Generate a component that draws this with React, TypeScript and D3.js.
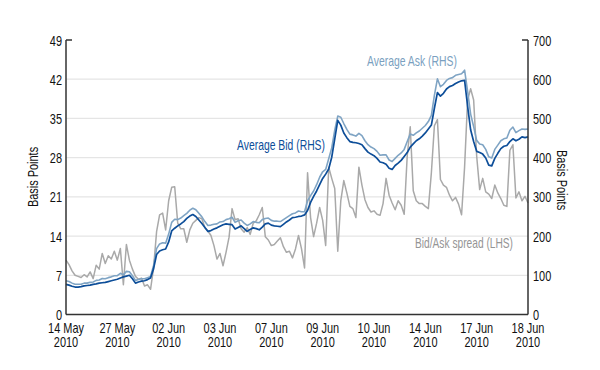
import React from "react";
import * as d3 from "d3";

const xTickLabels: [string, string][] = [
  ["14 May", "2010"], ["27 May", "2010"], ["02 Jun", "2010"], ["03 Jun", "2010"], ["07 Jun", "2010"],
  ["09 Jun", "2010"], ["10 Jun", "2010"], ["14 Jun", "2010"], ["17 Jun", "2010"], ["18 Jun", "2010"],
];
const leftTicks = [0, 7, 14, 21, 28, 35, 42, 49];
const rightTicks = [0, 100, 200, 300, 400, 500, 600, 700];

// Average Bid (RHS, basis points)
const averageBid = [
  77, 75, 72, 70, 70, 71, 73, 74, 75, 77,
  78, 80, 81, 82, 84, 86, 88, 90, 93, 96,
  98, 100, 91, 80, 83, 85, 86, 89, 93, 117,
  153, 162, 165, 167, 185, 213, 220, 226, 231, 237,
  245, 251, 255, 250, 241, 232, 222, 212, 214, 218,
  221, 225, 229, 231, 230, 229, 218, 222, 226, 219,
  212, 217, 221, 219, 216, 223, 231, 233, 228, 226,
  225, 224, 230, 236, 241, 247, 248, 250, 251, 254,
  265, 286, 301, 315, 331, 347, 358, 371, 401, 448,
  495, 483, 463, 451, 441, 439, 438, 436, 433, 423,
  414, 409, 405, 398, 389, 387, 383, 373, 370, 380,
  386, 393, 403, 413, 427, 435, 443, 448, 455, 463,
  473, 483, 526, 566, 557, 564, 575, 581, 584, 589,
  593, 596, 597, 531, 471, 441, 416, 413, 409, 399,
  381, 379, 398, 411, 423, 429, 431, 441, 448, 443,
  447, 453, 451, 453,
];

// Average Ask (RHS, basis points)
const averageAsk = [
  86, 84, 80, 77, 77, 77, 80, 80, 82, 83,
  87, 88, 92, 91, 94, 96, 99, 99, 105, 101,
  110, 109, 99, 87, 89, 91, 91, 94, 97, 125,
  168, 180, 183, 182, 205, 235, 243, 242, 246, 252,
  258, 266, 271, 267, 258, 249, 237, 227, 228, 230,
  231, 236, 237, 242, 244, 248, 235, 239, 241, 233,
  227, 231, 237, 235, 234, 242, 245, 246, 240, 238,
  238, 237, 242, 247, 252, 257, 259, 264, 262, 262,
  290, 303, 315, 331, 350, 364, 370, 397, 425, 470,
  506, 503, 487, 472, 460, 458, 455, 462, 456, 443,
  433, 427, 423, 416, 406, 407, 407, 394, 390, 398,
  406, 412, 421, 441, 460, 457, 463, 468, 475, 482,
  492, 508, 559, 601, 581, 587, 597, 602, 604, 610,
  612, 614, 623, 569, 511, 479, 444, 435, 433, 421,
  402, 399, 421, 432, 443, 448, 450, 470, 478, 464,
  469, 473, 472, 473,
];

// Bid/Ask spread (LHS, basis points)
const bidAskSpread = [
  9.7, 8.9, 7.8, 7.0, 6.8, 6.6, 7.1, 6.7, 7.6, 6.4,
  8.8, 8.1, 10.9, 9.1, 10.5, 9.9, 11.3, 9.7, 11.8, 5.3,
  12.5, 9.7, 8.1, 6.8, 6.3, 6.5, 5.1, 5.3, 4.5, 8.3,
  14.8, 17.8, 18.1, 15.1, 20.3, 22.7, 22.8, 16.3, 15.3, 15.3,
  12.9, 15.1, 16.3, 16.8, 17.3, 17.1, 15.5, 14.9, 14.1, 12.3,
  9.9, 10.9, 8.7, 11.1, 13.8, 18.9, 16.9, 17.1, 15.3, 14.7,
  15.5, 14.3, 16.3, 16.7, 17.8, 19.1, 13.9, 13.3, 12.3, 12.5,
  13.1, 13.7, 12.1, 11.1, 11.3, 10.1, 11.7, 14.1, 11.7, 8.3,
  25.3, 17.3, 13.9, 16.3, 19.1, 16.8, 12.3, 26.3, 24.3, 22.5,
  11.3, 20.3, 23.9, 21.7, 19.3, 18.9, 17.3, 26.3, 23.1, 20.5,
  19.1, 18.3, 18.5, 17.9, 17.7, 19.8, 24.3, 21.3, 19.9, 18.7,
  20.3, 19.5, 17.9, 28.3, 33.5, 22.1, 20.3, 19.8, 19.8, 19.3,
  18.9, 25.3, 33.7, 34.8, 24.1, 23.1, 22.7, 21.3, 20.3, 20.9,
  19.7, 17.8, 26.3, 38.3, 40.3, 38.3, 28.3, 22.3, 24.3, 21.9,
  21.5, 20.7, 23.1, 21.7, 20.7, 19.5, 19.3, 29.3, 30.3, 20.8,
  21.9, 20.3, 21.1, 19.9,
];

const W = 600;
const H = 370;
const X0 = 66;
const X1 = 528;
const YTOP = 40;
const YBOT = 314.5;
const FONT = "'Liberation Sans', Arimo, Arial, sans-serif";
const SQ = 0.73; // horizontal squeeze to mimic a condensed face

type NProps = {
  x: number;
  y: number;
  anchor?: "start" | "middle" | "end";
  size?: number;
  fill?: string;
  rotate?: number;
  children: React.ReactNode;
};

function NText({ x, y, anchor = "start", size = 15, fill = "#111", rotate = 0, children }: NProps) {
  return (
    <text
      transform={`translate(${x},${y}) rotate(${rotate}) scale(${SQ},1)`}
      textAnchor={anchor}
      fontSize={size}
      fill={fill}
    >
      {children}
    </text>
  );
}

export default function App() {
  const n = averageBid.length;
  const x = d3.scaleLinear().domain([0, n - 1]).range([X0, X1]);
  const yL = d3.scaleLinear().domain([0, 49]).range([YBOT, YTOP]);
  const yR = d3.scaleLinear().domain([0, 700]).range([YBOT, YTOP]);

  const lineR = d3.line<number>().x((_, i) => x(i)).y((d) => yR(d));
  const lineL = d3.line<number>().x((_, i) => x(i)).y((d) => yL(d));

  const labelStep = (n - 1) / (xTickLabels.length - 1);

  return (
    <svg
      width={W}
      height={H}
      style={{ position: "fixed", left: 0, top: 0, background: "#fff" }}
      fontFamily={FONT}
    >
      <rect x={0} y={0} width={W} height={H} fill="#fff" />
      {leftTicks.filter((t) => t > 0 && t < 49).map((t) => (
        <line key={"g" + t} x1={X0} x2={X1} y1={yL(t)} y2={yL(t)} stroke="#e5e5e5" strokeWidth={1.2} />
      ))}

      <path d={lineL(bidAskSpread) || ""} fill="none" stroke="#a9a9a9" strokeWidth={1.5} strokeLinejoin="round" />
      <path d={lineR(averageAsk) || ""} fill="none" stroke="#7fa4c4" strokeWidth={1.6} strokeLinejoin="round" />
      <path d={lineR(averageBid) || ""} fill="none" stroke="#0d4e99" strokeWidth={1.7} strokeLinejoin="round" />

      <line x1={X0} x2={X0} y1={YTOP} y2={YBOT} stroke="#333" strokeWidth={1.5} />
      <line x1={X1} x2={X1} y1={YTOP} y2={YBOT} stroke="#333" strokeWidth={1.5} />
      <line x1={X0} x2={X1} y1={YBOT} y2={YBOT} stroke="#333" strokeWidth={1.5} />
      <line x1={X0} x2={X0 + 6} y1={YTOP} y2={YTOP} stroke="#333" strokeWidth={1.5} />
      <line x1={X1 - 6} x2={X1} y1={YTOP} y2={YTOP} stroke="#333" strokeWidth={1.5} />

      {leftTicks.map((t) => (
        <NText key={"l" + t} x={X0 - 4} y={yL(t) + 5.5} anchor="end">
          {t}
        </NText>
      ))}
      {rightTicks.map((t) => (
        <NText key={"r" + t} x={X1 + 5} y={yR(t) + 5.5} anchor="start">
          {t}
        </NText>
      ))}
      {xTickLabels.map((lab, i) => (
        <g key={"x" + i}>
          <NText x={x(i * labelStep)} y={333} anchor="middle">{lab[0]}</NText>
          <NText x={x(i * labelStep)} y={347} anchor="middle">{lab[1]}</NText>
        </g>
      ))}

      <NText x={38} y={177} anchor="middle" rotate={-90}>Basis Points</NText>
      <NText x={557} y={180} anchor="middle" rotate={90}>Basis Points</NText>

      <text x={367} y={66} fontSize={15} fill="#7a9fc0" textLength={90} lengthAdjust="spacingAndGlyphs">
        Average Ask (RHS)
      </text>
      <text x={237} y={150} fontSize={15} fill="#0d4e99" textLength={88} lengthAdjust="spacingAndGlyphs">
        Average Bid (RHS)
      </text>
      <text x={415} y={248} fontSize={15} fill="#959595" textLength={98} lengthAdjust="spacingAndGlyphs">
        Bid/Ask spread (LHS)
      </text>
    </svg>
  );
}
